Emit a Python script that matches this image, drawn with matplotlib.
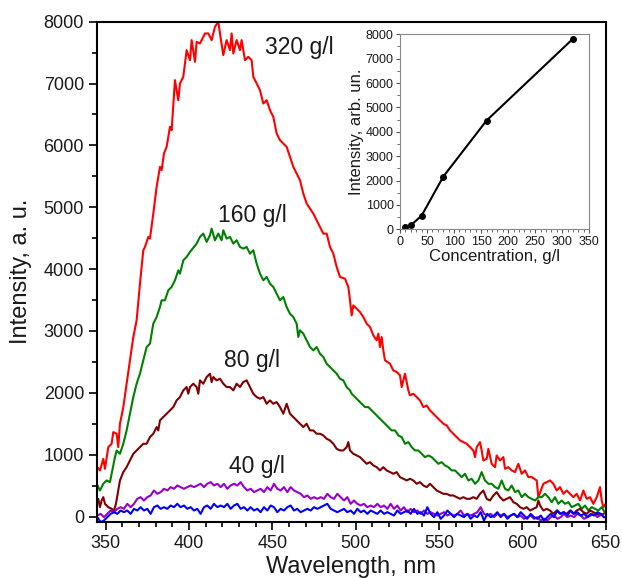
import matplotlib
matplotlib.use("Agg")
import matplotlib.pyplot as plt
from matplotlib.ticker import MultipleLocator
import numpy as np

plt.rcParams["font.family"] = ["Liberation Sans", "DejaVu Sans"]

# 320 g/l
red_wl = [345.0, 346.6, 348.6, 349.6, 351.6, 353.6, 354.6, 356.6, 357.6, 358.6, 360.6, 362.6, 364.6,
          366.6, 368.6, 370.6, 372.6, 373.6, 375.6, 376.6, 378.6, 380.6, 382.6, 383.6, 385.0, 386.6,
          388.6, 389.6, 391.6, 393.6, 394.6, 396.6, 398.6, 400.6, 401.6, 403.6, 404.6, 406.6, 409.6,
          411.6, 413.6, 415.6, 417.6, 418.6, 420.6, 422.6, 424.6, 425.6, 426.6, 428.6, 430.6, 431.6,
          433.6, 435.6, 437.6, 438.6, 440.6, 442.6, 444.6, 446.6, 448.6, 450.6, 452.6, 454.6, 456.6,
          458.6, 460.6, 462.6, 464.6, 466.6, 468.6, 470.6, 474.6, 476.6, 478.6, 480.6, 482.6, 484.6,
          486.6, 488.6, 490.6, 493.6, 495.6, 496.6, 497.6, 498.6, 500.6, 502.6, 504.6, 506.6, 508.6,
          510.6, 512.6, 513.6, 514.6, 515.6, 516.6, 517.6, 520.6, 522.6, 524.6, 526.6, 527.6, 529.6,
          531.6, 532.6, 534.6, 536.6, 538.6, 540.6, 542.6, 544.6, 546.6, 548.6, 550.6, 552.6, 554.6,
          556.6, 558.6, 560.6, 562.6, 564.6, 566.6, 568.6, 570.6, 571.6, 572.6, 574.6, 575.6, 576.6,
          578.6, 579.6, 581.6, 583.6, 584.6, 586.6, 588.6, 589.6, 591.6, 593.6, 595.6, 597.6, 599.6,
          601.6, 603.6, 605.6, 608.6, 609.6, 612.6, 616.6, 618.6, 620.6, 622.6, 624.6, 626.6, 630.6,
          632.6, 634.6, 636.6, 638.6, 640.6, 642.6, 644.6, 646.6, 647.6, 648.6, 650.0]
red_int = [798, 744, 933, 771, 1121, 1176, 1364, 1338, 1121, 1500, 1768, 2147, 2524,
           2901, 3171, 3765, 4304, 4358, 4520, 4493, 4897, 5329, 5652, 5599, 5868, 5976,
           6300, 6246, 7055, 6731, 7001, 7109, 7540, 7378, 7702, 7351, 7675, 7648, 7810,
           7810, 7702, 7918, 7998, 7810, 7459, 7702, 7540, 7810, 7486, 7702, 7540, 7702,
           7378, 7432, 7378, 7109, 7001, 6893, 6677, 6731, 6569, 6461, 6192, 6084, 6030,
           5976, 5814, 5652, 5545, 5437, 5221, 5059, 4897, 4790, 4682, 4574, 4574, 4358,
           4250, 4034, 3873, 3846, 3711, 3495, 3252, 3414, 3360, 3306, 3225, 3118, 3064,
           2929, 2848, 2956, 2740, 2902, 2686, 2524, 2470, 2362, 2336, 2282, 2093, 2309,
           2039, 1958, 1985, 1931, 1877, 1769, 1796, 1715, 1661, 1608, 1554, 1500, 1473,
           1392, 1338, 1284, 1230, 1203, 1176, 1122, 1068, 960, 1122, 1203, 1068, 906,
           933, 1095, 852, 798, 987, 906, 960, 772, 798, 745, 718, 852, 691,
           745, 637, 637, 583, 313, 529, 583, 529, 421, 475, 367, 421, 313,
           367, 259, 421, 286, 313, 205, 313, 475, 259, 151, 205]

# 160 g/l
green_wl = [344.6, 346.6, 348.6, 350.6, 352.6, 353.6, 355.6, 356.6, 358.6, 360.6, 362.6, 364.6, 366.6,
            368.6, 370.6, 372.6, 374.6, 376.6, 378.6, 379.6, 380.6, 382.6, 383.6, 385.6, 387.6, 389.6,
            391.6, 393.6, 394.6, 396.6, 398.6, 400.6, 404.6, 406.6, 408.6, 410.6, 412.6, 413.6, 415.6,
            417.6, 419.6, 420.6, 422.6, 424.6, 426.6, 428.6, 430.6, 432.6, 434.6, 436.6, 438.6, 440.6,
            442.6, 444.6, 446.6, 448.6, 450.6, 452.6, 454.6, 456.6, 458.6, 460.6, 462.6, 464.6, 465.6,
            466.6, 468.6, 470.6, 472.6, 474.6, 476.6, 478.6, 480.6, 482.6, 484.6, 486.6, 488.6, 490.6,
            492.6, 494.6, 496.6, 497.6, 499.6, 501.6, 503.6, 505.6, 507.6, 509.6, 511.6, 513.6, 515.6,
            517.6, 519.6, 521.6, 523.6, 525.6, 527.6, 529.6, 531.6, 533.6, 535.6, 537.6, 539.6, 541.6,
            543.6, 545.6, 547.6, 549.6, 551.6, 553.6, 555.6, 557.6, 559.6, 561.6, 563.6, 565.6, 567.6,
            569.6, 571.6, 573.6, 575.6, 577.6, 579.6, 581.6, 583.6, 585.6, 587.6, 589.6, 591.6, 593.6,
            595.6, 597.6, 599.6, 601.6, 603.6, 605.6, 607.6, 609.6, 611.6, 613.6, 615.6, 617.6, 619.6,
            621.6, 623.6, 625.6, 627.6, 629.6, 631.6, 633.6, 635.6, 637.6, 639.6, 641.6, 643.6, 645.6,
            647.6, 650.0]
green_int = [529, 421, 529, 583, 556, 691, 960, 1068, 1014, 1176, 1392, 1662, 1931,
             2147, 2309, 2524, 2740, 2794, 3118, 3171, 3225, 3387, 3495, 3495, 3657, 3711,
             3819, 3980, 3927, 4142, 4196, 4277, 4412, 4520, 4574, 4439, 4547, 4655, 4466,
             4574, 4466, 4628, 4493, 4520, 4412, 4466, 4358, 4331, 4358, 4250, 4304, 4088,
             3927, 3819, 3873, 3765, 3711, 3603, 3495, 3549, 3387, 3279, 3225, 3118, 2902,
             3010, 2956, 2848, 2740, 2686, 2740, 2632, 2578, 2470, 2417, 2363, 2309, 2228,
             2201, 2093, 2039, 1985, 1931, 1877, 1823, 1769, 1769, 1715, 1661, 1608, 1554,
             1500, 1446, 1392, 1392, 1311, 1284, 1176, 1203, 1122, 1068, 1068, 1014, 960,
             987, 960, 906, 852, 879, 825, 798, 745, 745, 691, 637, 691, 583,
             610, 529, 583, 718, 583, 529, 529, 475, 448, 583, 448, 421, 502,
             394, 421, 313, 367, 313, 286, 259, 313, 313, 367, 313, 232, 313,
             205, 259, 205, 232, 151, 178, 205, 124, 178, 97, 151, 124, 97,
             151, 43]

# 80 g/l
maroon_wl = [344.6, 345.6, 346.6, 347.6, 348.6, 349.6, 351.6, 353.6, 355.0, 356.2, 357.6, 358.6, 360.6,
             362.6, 364.6, 366.6, 368.6, 370.6, 372.6, 374.6, 376.6, 378.6, 380.6, 381.6, 382.6, 384.6,
             386.6, 388.6, 390.6, 392.6, 394.6, 396.6, 398.6, 399.6, 400.6, 402.6, 404.6, 405.6, 406.6,
             408.6, 410.6, 412.6, 413.6, 414.6, 416.6, 418.6, 420.6, 422.6, 424.6, 426.6, 428.6, 430.6,
             432.6, 434.6, 436.6, 438.6, 440.6, 442.6, 444.6, 446.6, 448.6, 450.6, 452.6, 454.6, 456.6,
             458.6, 460.6, 462.6, 464.6, 466.6, 468.6, 470.6, 472.6, 474.6, 476.6, 478.6, 480.6, 482.6,
             484.6, 486.6, 488.6, 490.6, 492.6, 494.6, 495.6, 496.6, 498.6, 500.6, 502.6, 504.6, 506.6,
             508.6, 510.6, 512.6, 514.6, 516.6, 518.6, 520.6, 522.6, 524.6, 526.6, 528.6, 530.6, 532.6,
             534.6, 536.6, 538.6, 540.6, 542.6, 544.6, 546.6, 548.6, 550.6, 552.6, 554.6, 556.6, 558.6,
             560.6, 562.6, 564.6, 566.6, 568.6, 570.6, 572.6, 574.6, 576.6, 578.6, 580.6, 582.6, 584.6,
             586.6, 588.6, 590.6, 592.6, 594.6, 596.6, 598.6, 600.6, 602.6, 604.6, 606.6, 608.6, 609.6,
             610.6, 612.6, 614.6, 616.6, 618.6, 620.6, 622.6, 624.6, 626.6, 628.6, 630.6, 632.6, 634.6,
             636.6, 638.6, 640.6, 642.6, 644.6, 646.6, 648.6]
maroon_int = [205, 286, 151, 259, 313, 205, 151, 124, 97, 205, 421, 583, 718,
              799, 906, 1014, 1068, 1122, 1176, 1176, 1284, 1338, 1446, 1392, 1554, 1608,
              1662, 1715, 1769, 1877, 1931, 2039, 2093, 1985, 2093, 2147, 2093, 1985, 2201,
              2147, 2255, 2309, 2174, 2255, 2201, 2228, 2147, 2093, 2093, 2039, 2147, 2093,
              2174, 2201, 2093, 1985, 1931, 1904, 1931, 1823, 1877, 1823, 1850, 1769, 1662,
              1823, 1662, 1608, 1554, 1500, 1446, 1500, 1392, 1392, 1338, 1338, 1311, 1257,
              1230, 1176, 1095, 1068, 1068, 1122, 1203, 1068, 1014, 987, 960, 906, 852,
              879, 825, 798, 745, 798, 745, 718, 691, 718, 637, 610, 583, 610,
              583, 529, 556, 502, 475, 529, 475, 421, 394, 367, 367, 340, 340,
              313, 286, 313, 286, 286, 313, 286, 367, 421, 286, 259, 340, 394,
              313, 259, 286, 313, 232, 205, 151, 124, 151, 97, 124, 151, 259,
              178, 97, 124, 97, 43, 97, 43, 70, 43, 97, 43, 97, 124,
              70, 43, 97, 70, 43, 16, 43]

# 40 g/l and lower, 2 nm grid
low_wl = np.arange(345, 650, 2)
purple_int = [17, 43, -10, 43, 97, 70, 124, 151, 124, 205,
              151, 205, 286, 313, 259, 313, 340, 421, 367, 394,
              448, 421, 475, 448, 502, 475, 448, 475, 502, 475,
              502, 529, 475, 529, 556, 502, 529, 475, 529, 448,
              502, 529, 502, 556, 475, 421, 448, 394, 421, 448,
              394, 475, 421, 529, 448, 421, 475, 394, 475, 421,
              394, 367, 313, 340, 286, 313, 286, 313, 286, 367,
              313, 286, 367,
              313, 259, 313, 205, 259, 205, 178, 205, 151, 178,
              151, 205, 151, 178, 124, 205, 124, 178, 97, 151,
              70, 124, 70, 97, 43, 97, 43, 70, 43, 16,
              43, 70, 16, 43, 16, 43, 97, 16, 43, 16,
              43, 70, 151, 43, 16, 43, -10, 43, 16, 43,
              -10, 16, 43, -10, 16, -37, -10, 16, -37, -10,
              -64, -37, -64, -10, 16, -37, -10, 43, -10, 16,
              -10, 43, 16, -37, -10, 16, 43, -10, 43, -10]
blue_int = [-10, -91, -64, -10, 43, 70, 43, 97, 70, 97,
            43, 124, 97, 151, 97, 124, 43, 151, 178, 124,
            151, 124, 178, 151, 205, 151, 178, 124, 151, 97,
            124, 43, 151, 178, 124, 205, 151, 178, 151, 205,
            124, 178, 205, 124, 151, 97, 151, 97, 124, 70,
            151, 97, 178, 151, 70, 124, 97, 151, 178, 97,
            124, 70, 97, 124, 97, 151, 124, 151, 178, 205,
            124, 97, 70,
            97, 124, 70, 97, 43, 124, 70, 97, 43, 97,
            70, 43, 97, 43, 70, 43, 16, 97, 43, 70,
            97, 43, 124, 43, 70, 16, 151, 43, -10, 70,
            -37, 16, 97, 43, -10, 43, 16, -10, 43, -37,
            16, -10, 70, -64, 43, -10, 16, 70, -10, 43,
            -37, 16, 43, -10, 70, 16, -37, 43, -10, -37,
            16, -64, -10, 43, -10, 97, 43, 70, 16, 97,
            43, 70, 16, 43, -10, 43, 16, 70, 43, -10]

# inset
conc = [10, 20, 40, 80, 160, 320]
conc_int = [85, 165, 560, 2160, 4460, 7820]

labels = ["320 g/l", "160 g/l", "80 g/l", "40 g/l"]
label_x = [466, 438, 438, 441]
label_y = [7590, 4870, 2520, 810]

txt = "#1a1a1a"
fig = plt.figure(figsize=(6.22, 5.78), dpi=100)
ax = fig.add_axes([0.1564, 0.0974, 0.8174, 0.8651])

ax.plot(red_wl, red_int, color="#ff0000", lw=1.5)
ax.plot(green_wl, green_int, color="#008000", lw=1.5)
ax.plot(maroon_wl, maroon_int, color="#800000", lw=1.5)
ax.plot(low_wl, purple_int, color="#9900cc", lw=1.5)
ax.plot(low_wl, blue_int, color="#0000ff", lw=1.5)

for t, x, y in zip(labels, label_x, label_y):
    ax.text(x, y, t, fontsize=16.5, color=txt, ha="center", va="center")

ax.set_xlim(345, 650)
ax.set_ylim(-84, 8000)
ax.xaxis.set_major_locator(MultipleLocator(50))
ax.xaxis.set_minor_locator(MultipleLocator(10))
ax.yaxis.set_major_locator(MultipleLocator(1000))
ax.yaxis.set_minor_locator(MultipleLocator(500))
ax.tick_params(which="both", direction="out", labelsize=13, labelcolor=txt, width=1.2)
ax.tick_params(which="major", length=6)
ax.tick_params(which="minor", length=3.5)
for s in ax.spines.values():
    s.set_linewidth(1.5)
ax.set_xlabel("Wavelength, nm", fontsize=17, color=txt, labelpad=3)
ax.set_ylabel("Intensity, a. u.", fontsize=17, color=txt, labelpad=8)

ins = fig.add_axes([0.6431, 0.6033, 0.3043, 0.3374])
ins.plot(conc, conc_int, color="black", lw=1.5, marker="o", ms=4)
ins.set_xlim(0, 350)
ins.set_ylim(0, 8000)
ins.xaxis.set_major_locator(MultipleLocator(50))
ins.xaxis.set_minor_locator(MultipleLocator(10))
ins.yaxis.set_major_locator(MultipleLocator(1000))
ins.yaxis.set_minor_locator(MultipleLocator(500))
ins.tick_params(which="both", direction="out", labelsize=9, labelcolor=txt, color="#555555", pad=1.5)
ins.tick_params(which="major", length=3)
ins.tick_params(which="minor", length=2)
for s in ins.spines.values():
    s.set_linewidth(0.8)
    s.set_color("#888888")
ins.set_xlabel("Concentration, g/l", fontsize=12, color=txt, labelpad=1)
ins.set_ylabel("Intensity, arb. un.", fontsize=12, color=txt, labelpad=1)

fig.savefig("out.png", dpi=100)
